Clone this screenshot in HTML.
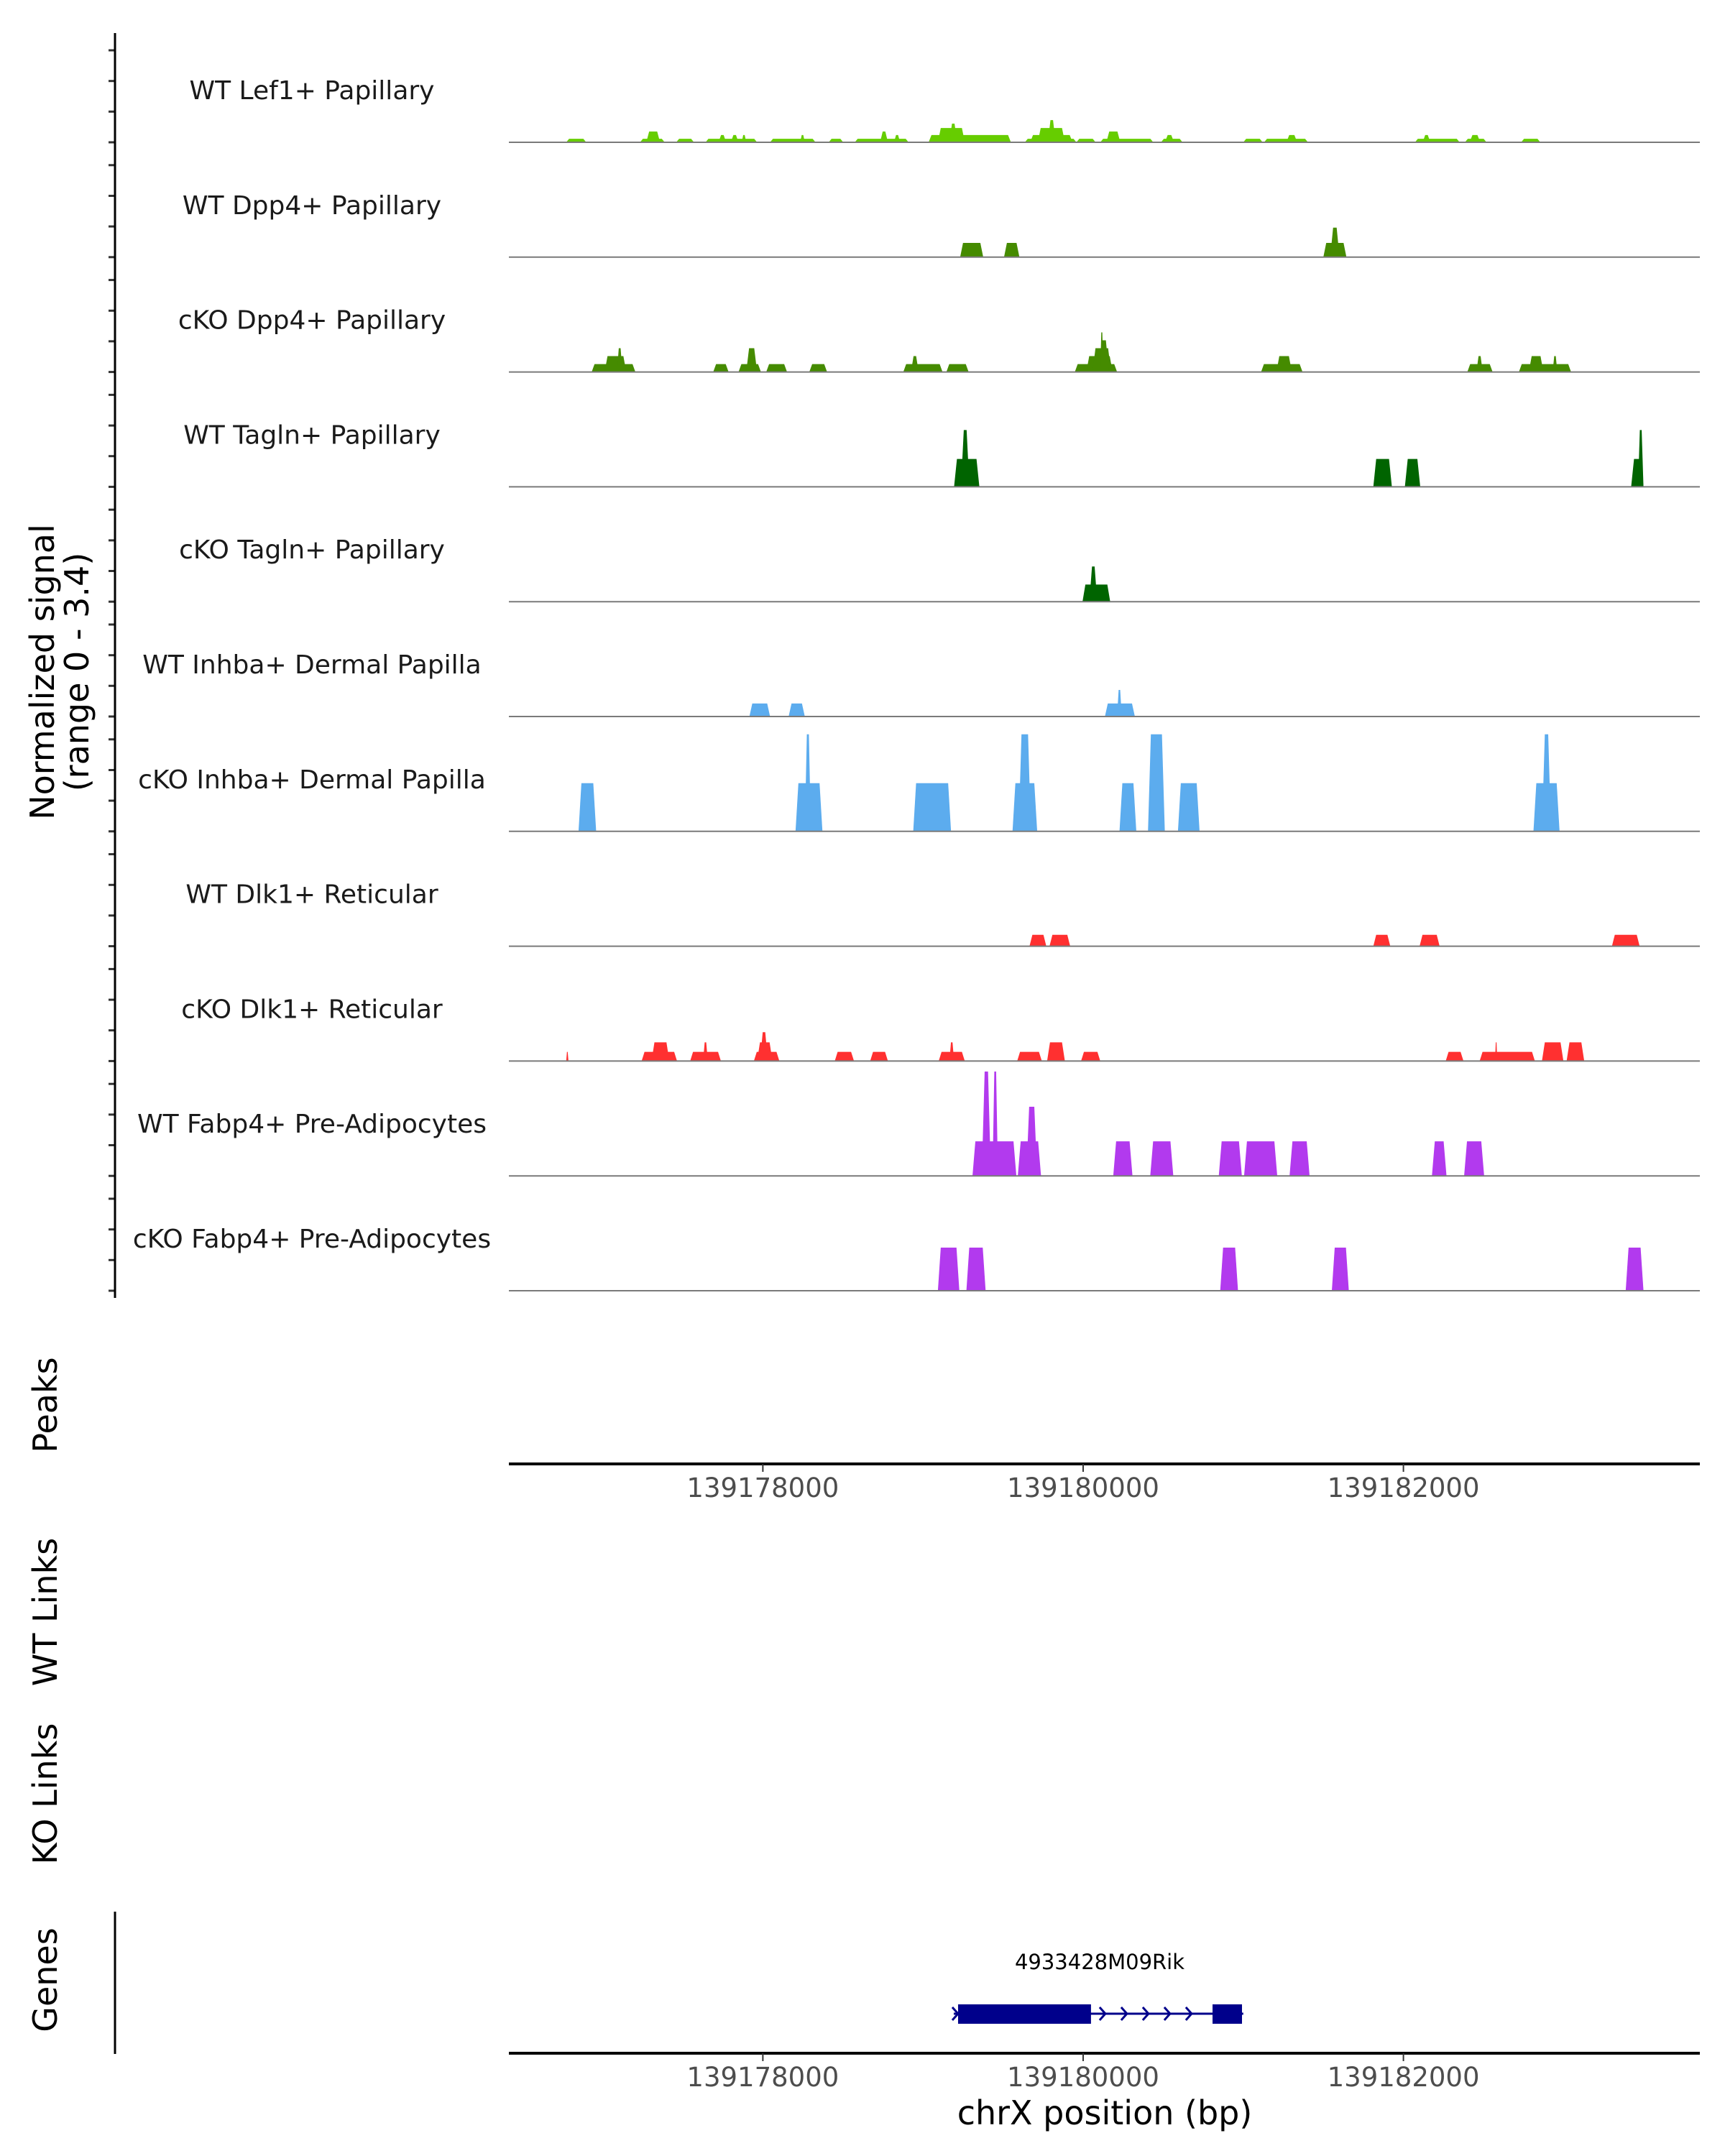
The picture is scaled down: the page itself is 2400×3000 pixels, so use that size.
<!DOCTYPE html>
<html><head><meta charset="utf-8"><style>
html,body{margin:0;padding:0;background:#fff;}
svg{display:block;font-family:"DejaVu Sans","Liberation Sans",sans-serif;}
</style></head><body>
<svg id="chart" width="2400" height="3000" viewBox="0 0 2400 3000" xmlns="http://www.w3.org/2000/svg">
<g id="tracks"></g>
<g id="axes"></g>
<text transform="translate(83,935) rotate(-90)" text-anchor="middle" font-size="46" fill="#000"><tspan x="0" dy="-8">Normalized signal</tspan><tspan x="0" dy="48">(range 0 - 3.4)</tspan></text>
<text transform="translate(79,1955) rotate(-90)" text-anchor="middle" font-size="46">Peaks</text>
<text transform="translate(79,2243) rotate(-90)" text-anchor="middle" font-size="46">WT Links</text>
<text transform="translate(79,2496) rotate(-90)" text-anchor="middle" font-size="46">KO Links</text>
<text transform="translate(79,2755) rotate(-90)" text-anchor="middle" font-size="46">Genes</text>
<text x="1537" y="2956" text-anchor="middle" font-size="46">chrX position (bp)</text>
</svg>
<script>
const trackNames = ["WT Lef1+ Papillary","WT Dpp4+ Papillary","cKO Dpp4+ Papillary","WT Tagln+ Papillary","cKO Tagln+ Papillary","WT Inhba+ Dermal Papilla","cKO Inhba+ Dermal Papilla","WT Dlk1+ Reticular","cKO Dlk1+ Reticular","WT Fabp4+ Pre-Adipocytes","cKO Fabp4+ Pre-Adipocytes"];
const trackColors = ["#66CD00","#458B00","#458B00","#006400","#006400","#5CACEE","#5CACEE","#FF3030","#FF3030","#B23AEE","#B23AEE"];
const xTicks = [139178000,139180000,139182000];
const xDomain = [139176414,139183851];
const yMax = 3.4;
// each block: [startBp, endBp, signal]
const lef1WT = [[139176772,139176897,0.11],[139177233,139177387,0.11],[139177272,139177358,0.34],[139177459,139177570,0.11],[139177642,139177964,0.11],[139177723,139177771,0.23],[139177800,139177848,0.23],[139177868,139177896,0.23],[139178045,139178329,0.11],[139178233,139178262,0.23],[139178411,139178502,0.11],[139178574,139178910,0.11],[139178732,139178781,0.34],[139178819,139178857,0.23],[139179035,139179549,0.23],[139179093,139179261,0.45],[139179165,139179213,0.59],[139179636,139179958,0.11],[139179669,139179934,0.23],[139179717,139179886,0.45],[139179780,139179828,0.70],[139179958,139180078,0.11],[139180107,139180438,0.11],[139180145,139180232,0.34],[139180486,139180621,0.11],[139180510,139180568,0.23],[139181000,139181121,0.11],[139181130,139181404,0.11],[139181269,139181337,0.23],[139182072,139182351,0.11],[139182120,139182168,0.23],[139182384,139182519,0.11],[139182413,139182480,0.23],[139182735,139182855,0.11]];
const dpp4WT = [[139179232,139179376,0.45],[139179506,139179602,0.45],[139181500,139181644,0.45],[139181543,139181601,0.93]];
const dpp4KO = [[139176931,139177204,0.25],[139177012,139177147,0.50],[139177089,139177123,0.75],[139177690,139177786,0.25],[139177848,139177988,0.25],[139177896,139177964,0.75],[139178021,139178151,0.25],[139178290,139178401,0.25],[139178877,139179122,0.25],[139178925,139178973,0.50],[139179146,139179285,0.25],[139179948,139180212,0.25],[139180020,139180184,0.50],[139180059,139180174,0.75],[139180102,139180160,1.00],[139180107,139180126,1.25],[139181111,139181370,0.25],[139181207,139181303,0.50],[139182399,139182557,0.25],[139182456,139182495,0.50],[139182721,139183047,0.25],[139182783,139182874,0.50],[139182932,139182961,0.50]];
const taglnWT = [[139179194,139179352,0.88],[139179237,139179290,1.79],[139181812,139181928,0.88],[139182009,139182105,0.88],[139183422,139183499,0.88],[139183465,139183499,1.79]];
const taglnKO = [[139179996,139180169,0.54],[139180039,139180088,1.11]];
const inhbaWT = [[139177916,139178045,0.41],[139178161,139178262,0.41],[139180136,139180323,0.41],[139180212,139180241,0.84]];
const inhbaKO = [[139176849,139176959,1.52],[139178204,139178372,1.52],[139178262,139178300,3.06],[139178939,139179175,1.52],[139179559,139179713,1.52],[139179597,139179674,3.06],[139180227,139180332,1.52],[139180405,139180510,3.06],[139180592,139180727,1.52],[139182812,139182975,1.52],[139182865,139182922,3.06]];
const dlk1WT = [[139179665,139179770,0.36],[139179790,139179919,0.36],[139181812,139181918,0.36],[139182101,139182226,0.36],[139183302,139183475,0.36]];
const dlk1KO = [[139176772,139176786,0.29],[139177243,139177464,0.29],[139177305,139177416,0.59],[139177546,139177738,0.29],[139177627,139177656,0.59],[139177944,139178103,0.29],[139177964,139178060,0.59],[139177983,139178031,0.91],[139178449,139178569,0.29],[139178670,139178781,0.29],[139179098,139179261,0.29],[139179165,139179194,0.59],[139179588,139179742,0.29],[139179775,139179886,0.59],[139179987,139180107,0.29],[139182264,139182375,0.29],[139182476,139182821,0.29],[139182572,139182586,0.59],[139182865,139182999,0.59],[139183019,139183129,0.59]];
const fabp4WT = [[139179309,139179583,1.09],[139179367,139179424,3.29],[139179434,139179468,3.29],[139179592,139179737,1.09],[139179645,139179713,2.18],[139180188,139180308,1.09],[139180419,139180563,1.09],[139180847,139180991,1.09],[139181005,139181212,1.09],[139181289,139181414,1.09],[139182178,139182269,1.09],[139182379,139182504,1.09]];
const fabp4KO = [[139179093,139179227,1.36],[139179271,139179391,1.36],[139180856,139180967,1.36],[139181553,139181659,1.36],[139183388,139183499,1.36]];
const trackData = [lef1WT,dpp4WT,dpp4KO,taglnWT,taglnKO,inhbaWT,inhbaKO,dlk1WT,dlk1KO,fabp4WT,fabp4KO];
const geneExons = [[139179219,139180049],[139180808,139180992]];
const geneSpan = [139179192,139181000];

const NS="http://www.w3.org/2000/svg";
const X0=708,X1=2365,BASE0=198,STEP=159.8,TH=150;
function x(bp){return X0+(bp-xDomain[0])/(xDomain[1]-xDomain[0])*(X1-X0);}
function y(v,i){return BASE0+STEP*i - v/yMax*TH;}
function mk(tag,attrs,parent){const e=document.createElementNS(NS,tag);for(const k in attrs)e.setAttribute(k,attrs[k]);parent.appendChild(e);return e;}
const tracks=document.getElementById('tracks'), axes=document.getElementById('axes');

trackData.forEach((blocks,i)=>{
  const g=mk('g',{},tracks);
  
  
  const b=y(0,i);
  const lab=mk('text',{x:434,y:b-60,'text-anchor':'middle','font-size':36,fill:'#1a1a1a'},g);
  lab.textContent=trackNames[i];
  
  
  blocks.forEach(bl=>{
    const xs=x(bl[0]),xe=x(bl[1]),yt=y(bl[2],i);
    const r=Math.min(4,(xe-xs)/3);
    const p=mk('polygon',{points:`${xs},${b} ${xs+r},${yt} ${xe-r},${yt} ${xe},${b}`,fill:trackColors[i]},g);
    
    
  });
  const ln=mk('line',{x1:X0,x2:X1,y1:b,y2:b,stroke:'#7a7a7a','stroke-width':2},g);
  
  
  [0,42.7,85.3,128].forEach(d=>{
    const t=mk('line',{x1:151,x2:160,y1:b-d,y2:b-d,stroke:'#333','stroke-width':3},axes);
    
    
  });
});
const ya=mk('line',{x1:160,x2:160,y1:46,y2:1806,stroke:'#000','stroke-width':3},axes);


const ga=mk('line',{x1:160,x2:160,y1:2660,y2:2858,stroke:'#000','stroke-width':3},axes);



[2037,2857].forEach((ay,k)=>{
  const l=mk('line',{x1:X0,x2:X1,y1:ay,y2:ay,stroke:'#000','stroke-width':4},axes);
  
  
  xTicks.forEach(t=>{
    const tk=mk('line',{x1:x(t),x2:x(t),y1:ay,y2:ay+11,stroke:'#333','stroke-width':2},axes);
    
    
    const tl=mk('text',{x:x(t),y:ay+46,'text-anchor':'middle','font-size':37,fill:'#4d4d4d'},axes);
    tl.textContent=String(t);
    
    
  });
});

// gene model
const gg=mk('g',{},axes);


const gy=2802;
mk('line',{x1:x(geneSpan[0]),x2:x(geneSpan[1]),y1:gy,y2:gy,stroke:'#00008B','stroke-width':3},gg);
for(let k=0;k<5;k++){
  const ax=x(geneExons[0][1])+18+k*30;
  mk('polyline',{points:`${ax-6},${gy-9} ${ax+2},${gy} ${ax-6},${gy+9}`,fill:'none',stroke:'#00008B','stroke-width':3},gg);
}
mk('polyline',{points:`${x(geneSpan[0])-2},${gy-9} ${x(geneSpan[0])+6},${gy} ${x(geneSpan[0])-2},${gy+9}`,fill:'none',stroke:'#00008B','stroke-width':3},gg);
geneExons.forEach(e=>{
  const r=mk('rect',{x:x(e[0]),y:gy-13,width:x(e[1])-x(e[0]),height:27,fill:'#00008B'},gg);
  
  
});
const gl=mk('text',{x:1530,y:2740,'text-anchor':'middle','font-size':29,fill:'#000'},gg);
gl.textContent='4933428M09Rik';


</script>
</body></html>
